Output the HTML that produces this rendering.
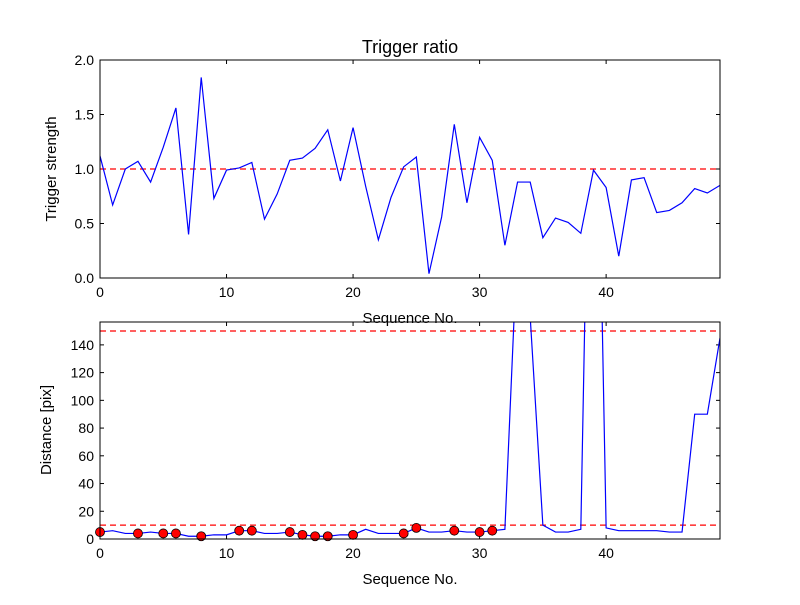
<!DOCTYPE html>
<html><head><meta charset="utf-8"><style>
body{margin:0;background:#fff;}
svg text{font-family:"Liberation Sans","DejaVu Sans",sans-serif;fill:#000;}
</style></head><body>
<svg id="chart" width="800" height="600" xmlns="http://www.w3.org/2000/svg"></svg>
<script>
const ratio=[1.12,0.67,1.0,1.07,0.88,1.2,1.56,0.4,1.84,0.73,0.99,1.01,1.06,0.54,0.77,1.08,1.1,1.19,1.36,0.89,1.38,0.84,0.35,0.74,1.02,1.11,0.04,0.56,1.41,0.69,1.29,1.08,0.3,0.88,0.88,0.37,0.55,0.51,0.41,0.99,0.83,0.2,0.9,0.92,0.6,0.62,0.69,0.82,0.78,0.85];
const distance=[5,6,4,4,5,4,4,2,2,3,3,6,6,4,4,5,3,2,2,3,3,7,4,4,4,8,5,5,6,5,5,6,7,217,160,10,5,5,7,490,8,6,6,6,6,5,5,90,90,145];
const markedIdx=[0,3,5,6,8,11,12,15,16,17,18,20,24,25,28,30,31];
const ratioThreshold=[1.0];
const distThresholds=[150,10];
const xTicks=[0,10,20,30,40];
const yTicksTop=[0.0,0.5,1.0,1.5,2.0];
const yTicksBot=[0,20,40,60,80,100,120,140];
const NS="http://www.w3.org/2000/svg";
const svg=document.getElementById('chart');
function mk(t,a,p){const e=document.createElementNS(NS,t);for(const k in a)e.setAttribute(k,a[k]);(p||svg).appendChild(e);return e;}
const L=100,R=720;
const xs=v=>L+(v-0)/49*(R-L);
function panel(top,bot,ymin,ymax,yticks,fmt,name){
 const ys=v=>bot-(v-ymin)/(ymax-ymin)*(bot-top);
 const g=mk('g',{});
 
 
 const cid='clip-'+name;
 const cp=mk('clipPath',{id:cid},g);mk('rect',{x:L,y:top,width:R-L,height:bot-top},cp);
 xTicks.forEach(t=>{
  mk('line',{x1:xs(t),x2:xs(t),y1:bot,y2:bot-4,stroke:'#000'},g);
  mk('line',{x1:xs(t),x2:xs(t),y1:top,y2:top+4,stroke:'#000'},g);
  const tx=mk('text',{x:xs(t),y:bot+19,'text-anchor':'middle','font-size':14},g);tx.textContent=t;
  
  
 });
 yticks.forEach(t=>{
  mk('line',{x1:L,x2:L+4,y1:ys(t),y2:ys(t),stroke:'#000'},g);
  mk('line',{x1:R,x2:R-4,y1:ys(t),y2:ys(t),stroke:'#000'},g);
  const tx=mk('text',{x:L-6,y:ys(t)+5,'text-anchor':'end','font-size':14},g);tx.textContent=fmt(t);
  
  
 });
 return {g,ys,cid};
}
const p1=panel(60,278,0,2,yTicksTop,v=>v.toFixed(1),'ratio-panel');
ratioThreshold.forEach(v=>{const l=mk('line',{x1:L,x2:R,y1:p1.ys(v),y2:p1.ys(v),stroke:'#f00','stroke-dasharray':'6,4','stroke-width':1.2},p1.g);
 
 });
const l1=mk('polyline',{points:ratio.map((v,i)=>xs(i)+','+p1.ys(v)).join(' '),fill:'none',stroke:'#00f','stroke-width':1.2,'clip-path':'url(#'+p1.cid+')'},p1.g);


mk('rect',{x:L,y:60,width:R-L,height:218,fill:'none',stroke:'#000'},p1.g);
const p2=panel(322,539,0,156.5,yTicksBot,v=>v,'distance-panel');
distThresholds.forEach(v=>{const l=mk('line',{x1:L,x2:R,y1:p2.ys(v),y2:p2.ys(v),stroke:'#f00','stroke-dasharray':'6,4','stroke-width':1.2},p2.g);
 
 });
const l2=mk('polyline',{points:distance.map((v,i)=>xs(i)+','+p2.ys(v)).join(' '),fill:'none',stroke:'#00f','stroke-width':1.2,'clip-path':'url(#'+p2.cid+')'},p2.g);


markedIdx.forEach(i=>{const c=mk('circle',{cx:xs(i),cy:p2.ys(distance[i]),r:4.5,fill:'#f00',stroke:'#000','stroke-width':0.8},p2.g);
 
 });
mk('rect',{x:L,y:322,width:R-L,height:217,fill:'none',stroke:'#000'},p2.g);
function lab(x,y,txt,size,name,rot){const t=mk('text',{x:x,y:y,'text-anchor':'middle','font-size':size});if(rot)t.setAttribute('transform','rotate(-90 '+x+' '+y+')');t.textContent=txt;
 
 }
lab(410,53,'Trigger ratio',18,'chart-title');
lab(410,323,'Sequence No.',15,'top-x-axis-title');
lab(410,584,'Sequence No.',15,'bottom-x-axis-title');
lab(56,169,'Trigger strength',15,'top-y-axis-title',true);
lab(51,430,'Distance [pix]',15,'bottom-y-axis-title',true);
</script>
</body></html>
